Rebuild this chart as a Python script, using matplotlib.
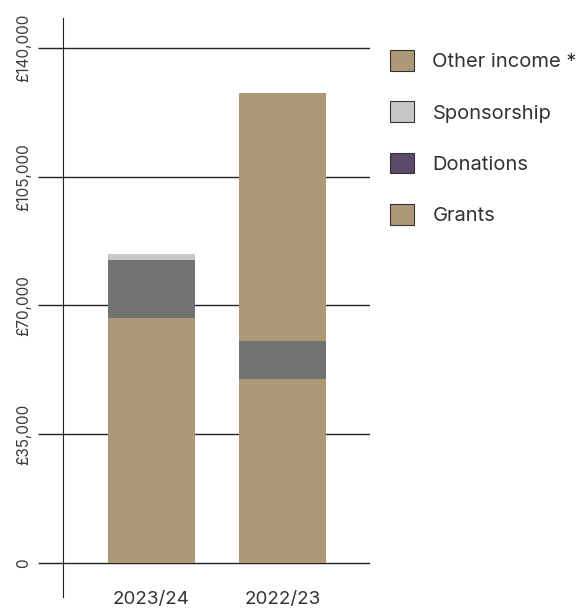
import numpy as np
import matplotlib.pyplot as plt
from matplotlib.patches import Patch

plt.rcParams['font.family'] = ['Inter', 'DejaVu Sans']

years = ['2023/24', '2022/23']
grants = [66600, 50000]
donations = [15800, 10300]
sponsorship = [1600, 0]
other = [0, 67400]

fig = plt.figure(figsize=(5.86, 6.10), dpi=100)
ax = fig.add_axes([63/586, 1-597/610, 307/586, 579/610])

x = np.arange(len(years))
w = 0.664
tan = '#ad9877'
grey = '#727272'
light = '#c8c8c8'
purple = '#5b4a68'

b = np.zeros(len(years))
ax.bar(x, grants, w, bottom=b, color=tan, zorder=3)
b += grants
ax.bar(x, donations, w, bottom=b, color=grey, zorder=3)
b += donations
ax.bar(x, sponsorship, w, bottom=b, color=light, zorder=3)
b += sponsorship
ax.bar(x, other, w, bottom=b, color=tan, zorder=3)

ax.set_xlim(-0.676, 1.668)
ax.set_ylim(-9240, 148150)
ticks = [0, 35000, 70000, 105000, 140000]
ax.set_yticks(ticks)
ax.set_yticklabels(['0', '£35,000', '£70,000', '£105,000', '£140,000'],
                   rotation=90, va='center', fontsize=11, color='#3a3a3a')
for t in ticks:
    ax.axhline(t, color='#222222', lw=1, zorder=2)
ax.tick_params(axis='y', length=18, width=1, color='#222222', pad=5)
ax.set_xticks(x)
ax.set_xticklabels(years, fontsize=13.5, color='#333333')
ax.tick_params(axis='x', length=0, pad=-4)
for s in ['top', 'right', 'bottom']:
    ax.spines[s].set_visible(False)
ax.spines['left'].set_color('#222222')
ax.spines['left'].set_zorder(4)

handles = [Patch(facecolor=tan, edgecolor='#333333', lw=0.8, label='Other income *'),
           Patch(facecolor=light, edgecolor='#333333', lw=0.8, label='Sponsorship'),
           Patch(facecolor=purple, edgecolor='#333333', lw=0.8, label='Donations'),
           Patch(facecolor=tan, edgecolor='#333333', lw=0.8, label='Grants')]
leg = fig.legend(handles=handles, loc='upper left', bbox_to_anchor=(380/586, 1-40/610),
                 frameon=False, fontsize=14.5, handlelength=1.2, handleheight=1.2,
                 labelspacing=1.5, handletextpad=0.9, borderpad=0)
for t in leg.get_texts():
    t.set_color('#333333')

fig.savefig('out.png', dpi=100)
